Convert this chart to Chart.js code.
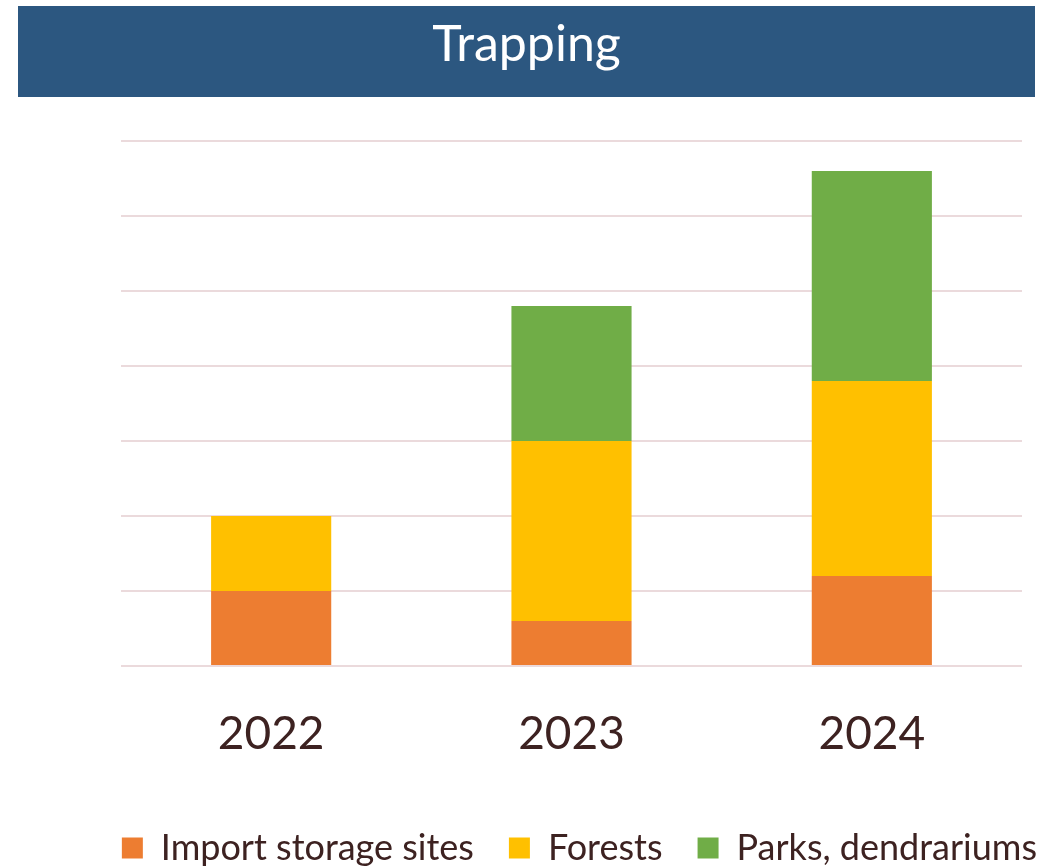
<!DOCTYPE html>
<html>
<head>
<meta charset="utf-8">
<script src="https://cdn.jsdelivr.net/npm/chart.js@4/dist/chart.umd.min.js"></script>
<style>
  html, body { margin: 0; padding: 0; background: #ffffff; overflow: hidden; }
  #wrap { position: relative; width: 1053px; height: 867px; overflow: hidden; }
  #banner {
    position: absolute; left: 18px; top: 6px; width: 1017px; height: 91px;
    background: #2C5780;
  }
  #banner span {
    position: absolute; left: 0; right: 0; top: 6px; text-align: center;
    font-family: Lato, "Open Sans", sans-serif; font-size: 50px; line-height: 1.2;
    color: #ffffff;
  }
  #c { position: absolute; left: 0; top: 0; }
</style>
</head>
<body>
<div id="wrap">
  <canvas id="c" width="1072" height="876"></canvas>
  <div id="banner"><span>Trapping</span></div>
</div>
<script>
const categories = ["2022", "2023", "2024"];
const seriesNames = ["Import storage sites", "Forests", "Parks, dendrariums"];
const importStorage = [5, 3, 6];
const forests = [5, 12, 13];
const parks = [0, 9, 14];
const yMax = 35;
const yStep = 5;

const textColor = "#3D2221";
const colors = ["#ED7D31", "#FFC000", "#70AD47"];

new Chart(document.getElementById("c"), {
  type: "bar",
  data: {
    labels: categories,
    datasets: [
      { label: seriesNames[0], data: importStorage, backgroundColor: colors[0] },
      { label: seriesNames[1], data: forests, backgroundColor: colors[1] },
      { label: seriesNames[2], data: parks, backgroundColor: colors[2] }
    ]
  },
  options: {
    responsive: false,
    animation: false,
    devicePixelRatio: 1,
    layout: { padding: { left: 0, right: 0, top: 141, bottom: 0 } },
    datasets: { bar: { barPercentage: 0.4, categoryPercentage: 1.0, borderWidth: 0 } },
    scales: {
      x: {
        stacked: true,
        grid: { display: false, drawTicks: false },
        border: { display: false },
        ticks: {
          color: textColor,
          padding: 41,
          font: { family: "Lato", size: 46 }
        },
        afterFit: (scale) => { scale.height = 129; }
      },
      y: {
        stacked: true,
        min: 0,
        max: yMax,
        ticks: { display: false, stepSize: yStep },
        grid: { color: "#EBDADC", lineWidth: 2, drawTicks: false },
        border: { display: false },
        afterFit: (scale) => { scale.width = 121; }
      },
      y2: {
        type: "linear",
        position: "right",
        display: true,
        ticks: { display: false },
        grid: { display: false, drawTicks: false },
        border: { display: false },
        afterFit: (scale) => { scale.width = 50; }
      }
    },
    plugins: {
      title: { display: false },
      tooltip: { enabled: false },
      legend: {
        position: "bottom",
        align: "end",
        labels: {
          color: textColor,
          boxWidth: 21,
          boxHeight: 21,
          padding: 35,
          font: { family: "Lato", size: 36 }
        }
      }
    }
  }
});
</script>
</body>
</html>
